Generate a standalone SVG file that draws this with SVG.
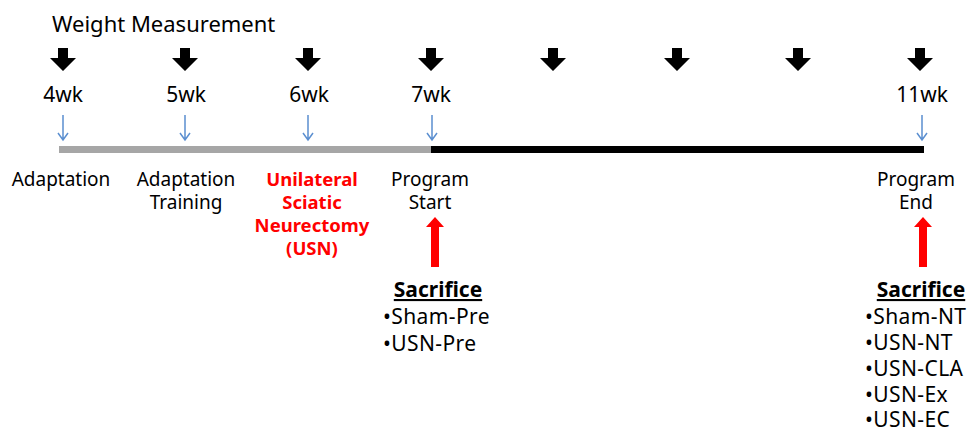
<svg xmlns="http://www.w3.org/2000/svg" width="973" height="433" viewBox="0 0 973 433">
<style>
text{font-family:"Noto Sans","Open Sans","DejaVu Sans",sans-serif;fill:#000}
.lab{font-size:19px;text-anchor:middle}
.wk{font-size:21px;text-anchor:middle}
.red{fill:#ff0000;font-weight:bold;font-size:18.5px;text-anchor:middle}
.sac{font-size:21px;font-weight:bold;text-decoration:underline;text-anchor:middle}
.item{font-size:21px;letter-spacing:0.4px}
.blk{fill:#000}
.blue{stroke:#5b8fd0;stroke-width:1.5;fill:none}
.redar{fill:#ff0000}
</style>
<defs>
<path id="bigdown" d="M-5,48 h10 v10 h8 l-13,13 l-13,-13 h8 z"/>
<path id="thin" d="M0,115 V140 M-5,133 L0,140 L5,133"/>
<path id="redup" d="M-4,267 V227 h-5 l9,-10 l9,10 h-5 V267 z"/>
</defs>
<text x="52" y="32" font-size="22">Weight Measurement</text>
<g id="connectors">
<use href="#bigdown" x="63" class="blk"/>
<use href="#bigdown" x="185" class="blk"/>
<use href="#bigdown" x="308" class="blk"/>
<use href="#bigdown" x="431" class="blk"/>
<use href="#bigdown" x="553" class="blk"/>
<use href="#bigdown" x="677" class="blk"/>
<use href="#bigdown" x="798" class="blk"/>
<use href="#bigdown" x="920" class="blk"/>
<use href="#thin" x="63" class="blue"/>
<use href="#thin" x="185" class="blue"/>
<use href="#thin" x="308" class="blue"/>
<use href="#thin" x="432" class="blue"/>
<use href="#thin" x="922" class="blue"/>
<use href="#redup" x="435" class="redar"/>
<use href="#redup" x="923" class="redar"/>
</g>
<g id="timeline">
<rect x="59" y="146" width="372" height="7" fill="#a6a6a6"/>
<rect x="431" y="146" width="493" height="7" fill="#000"/>
</g>
<g id="weeks">
<text class="wk" x="63" y="102">4wk</text>
<text class="wk" x="186" y="102">5wk</text>
<text class="wk" x="309" y="102">6wk</text>
<text class="wk" x="431" y="102">7wk</text>
<text class="wk" x="922" y="102">11wk</text>
</g>
<g id="n-adaptation"><text class="lab" x="61" y="186">Adaptation</text></g>
<g id="n-training"><text class="lab" x="186" y="186">Adaptation</text><text class="lab" x="186" y="209">Training</text></g>
<g id="n-usn">
<text class="red" x="312" y="186">Unilateral</text>
<text class="red" x="312" y="209">Sciatic</text>
<text class="red" x="312" y="232">Neurectomy</text>
<text class="red" x="312" y="255">(USN)</text>
</g>
<g id="n-start"><text class="lab" x="430" y="186">Program</text><text class="lab" x="430" y="209">Start</text></g>
<g id="n-end"><text class="lab" x="916" y="186">Program</text><text class="lab" x="916" y="209">End</text></g>
<g id="n-sac-pre">
<text class="sac" x="438" y="297">Sacrifice</text>
<text class="item" x="383" y="324">•Sham-Pre</text>
<text class="item" x="383" y="351">•USN-Pre</text>
</g>
<g id="n-sac-end">
<text class="sac" x="921" y="297">Sacrifice</text>
<text class="item" x="865" y="324">•Sham-NT</text>
<text class="item" x="865" y="350">•USN-NT</text>
<text class="item" x="865" y="376">•USN-CLA</text>
<text class="item" x="865" y="402">•USN-Ex</text>
<text class="item" x="865" y="427">•USN-EC</text>
</g>
</svg>
